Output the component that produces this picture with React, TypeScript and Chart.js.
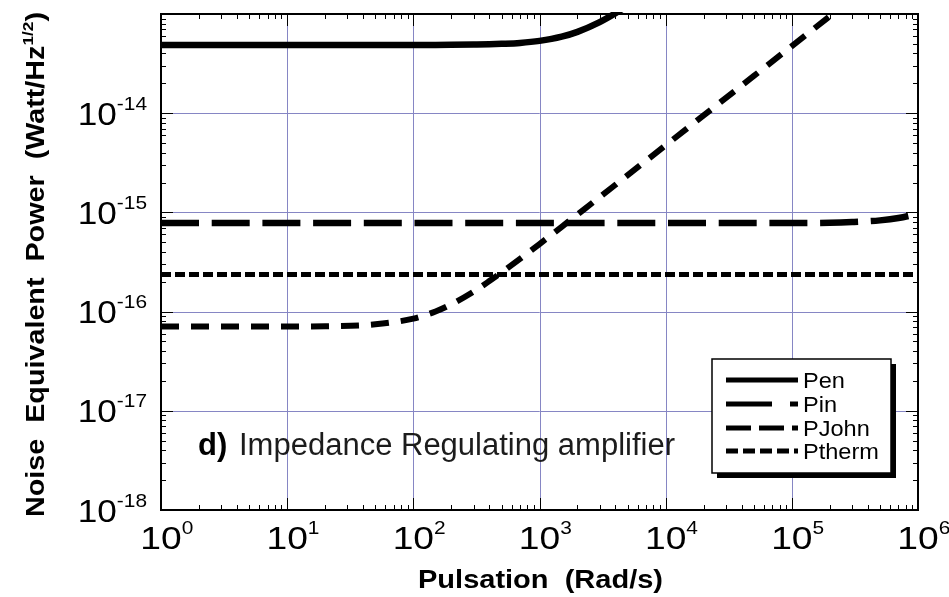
import React, { useEffect, useRef } from "react";
import { Chart, registerables } from "chart.js";

Chart.register(...registerables);

// Pulsation (rad/s)
const omega = [
  1, 2, 5, 10, 20, 50,
  100, 150, 200, 300, 400, 500, 700,
  1000, 1500, 2000, 3000, 4000, 5000, 7000,
  1e4, 2e4, 5e4,
  1e5, 2e5, 3e5, 5e5, 7e5,
  1e6,
];

const pen = [
  4.87e-14, 4.87e-14, 4.87e-14, 4.87e-14, 4.87e-14, 4.87e-14,
  4.875e-14, 4.88e-14, 4.89e-14, 4.92e-14, 4.95e-14, 5.0e-14, 5.11e-14,
  5.36e-14, 5.91e-14, 6.61e-14, 8.29e-14, 1.018e-13, 1.22e-13, null,
  null, null, null,
  null, null, null, null, null,
  null,
];

const pin = [
  7.8e-16, 7.8e-16, 7.8e-16, 7.8e-16, 7.8e-16, 7.8e-16,
  7.8e-16, 7.8e-16, 7.8e-16, 7.8e-16, 7.8e-16, 7.8e-16, 7.8e-16,
  7.8e-16, 7.8e-16, 7.8e-16, 7.8e-16, 7.8e-16, 7.8e-16, 7.8e-16,
  7.8e-16, 7.8e-16, 7.8e-16,
  7.82e-16, 7.86e-16, 7.99e-16, 8.31e-16, 8.77e-16,
  9.68e-16,
];

const pJohn = [
  7.06e-17, 7.06e-17, 7.06e-17, 7.08e-17, 7.12e-17, 7.45e-17,
  8.51e-17, 1.003e-16, 1.184e-16, 1.59e-16, 2.03e-16, 2.48e-16, 3.4e-16,
  4.8e-16, 7.16e-16, 9.53e-16, 1.426e-15, 1.9e-15, 2.375e-15, 3.325e-15,
  4.75e-15, 9.5e-15, 2.375e-14,
  4.75e-14, 9.5e-14, 1.425e-13, null, null,
  null,
];

const pTherm = [
  2.37e-16, 2.37e-16, 2.37e-16, 2.37e-16, 2.37e-16, 2.37e-16,
  2.37e-16, 2.37e-16, 2.37e-16, 2.37e-16, 2.37e-16, 2.37e-16, 2.37e-16,
  2.37e-16, 2.37e-16, 2.37e-16, 2.37e-16, 2.37e-16, 2.37e-16, 2.37e-16,
  2.37e-16, 2.37e-16, 2.37e-16,
  2.37e-16, 2.37e-16, 2.37e-16, 2.37e-16, 2.37e-16,
  2.37e-16,
];

const seriesNames = ["Pen", "Pin", "PJohn", "Ptherm"];
const xDecades = [0, 1, 2, 3, 4, 5, 6];
const yDecades = [-18, -17, -16, -15, -14];
const xTitle = "Pulsation  (Rad/s)";
const yTitleMain = "Noise  Equivalent  Power  (Watt/Hz";
const yTitleSup = "1/2";
const yTitleEnd = ")";
const noteBold = "d)";
const noteText = "Impedance Regulating amplifier";

const FONT = '"Liberation Sans", Arial, Helvetica, sans-serif';
const GRID = "#8686c4";

const styles = [
  { width: 6.5, dash: [] as number[], legendDash: [] as number[] },
  { width: 6.5, dash: [38, 12.7], legendDash: [46, 18] },
  { width: 6, dash: [18, 12], legendDash: [25, 8] },
  { width: 5, dash: [10, 4], legendDash: [12, 5] },
];

function toXY(vals: (number | null)[]) {
  const out: { x: number; y: number }[] = [];
  omega.forEach((w, i) => {
    const v = vals[i];
    if (v !== null && v !== undefined) out.push({ x: w, y: v });
  });
  return out;
}

function measure(ctx: CanvasRenderingContext2D, s: string, font: string) {
  ctx.font = font;
  return ctx.measureText(s).width;
}

function drawS(
  ctx: CanvasRenderingContext2D,
  s: string,
  x: number,
  y: number,
  font: string,
  sx: number
) {
  ctx.save();
  ctx.font = font;
  ctx.textAlign = "left";
  ctx.textBaseline = "alphabetic";
  ctx.translate(x, y);
  ctx.scale(sx, 1);
  ctx.fillText(s, 0, 0);
  ctx.restore();
}

const gridPlugin = {
  id: "decadeGrid",
  beforeDatasetsDraw(chart: any) {
    const { ctx, chartArea: a } = chart;
    const xs = chart.scales.x;
    const ys = chart.scales.y;
    ctx.save();
    ctx.strokeStyle = GRID;
    ctx.lineWidth = 1;
    ctx.beginPath();
    xDecades.forEach((e) => {
      const px = Math.round(xs.getPixelForValue(Math.pow(10, e))) + 0.5;
      ctx.moveTo(px, a.top);
      ctx.lineTo(px, a.bottom);
    });
    yDecades.forEach((e) => {
      const py = Math.round(ys.getPixelForValue(Math.pow(10, e))) + 0.5;
      ctx.moveTo(a.left, py);
      ctx.lineTo(a.right, py);
    });
    ctx.stroke();
    ctx.restore();
  },
};

const decorPlugin = {
  id: "decor",
  afterDraw(chart: any) {
    const { ctx, chartArea: a } = chart;
    const xs = chart.scales.x;
    const ys = chart.scales.y;
    ctx.save();
    ctx.fillStyle = "#000";
    ctx.strokeStyle = "#000";

    // inward tick marks on all four sides
    ctx.lineWidth = 1;
    ctx.beginPath();
    for (let e = 0; e <= 6; e++) {
      for (let m = 1; m <= 9; m++) {
        const v = m * Math.pow(10, e);
        if (v > 1e6 * 1.0001) break;
        const px = Math.round(xs.getPixelForValue(v)) + 0.5;
        const len = m === 1 ? 12 : 5;
        ctx.moveTo(px, a.bottom);
        ctx.lineTo(px, a.bottom - len);
        ctx.moveTo(px, a.top);
        ctx.lineTo(px, a.top + len);
      }
    }
    for (let e = -18; e <= -13; e++) {
      for (let m = 1; m <= 9; m++) {
        const v = m * Math.pow(10, e);
        if (v > 1e-13 * 1.0001) break;
        const py = Math.round(ys.getPixelForValue(v)) + 0.5;
        const len = m === 1 ? 12 : 5;
        ctx.moveTo(a.left, py);
        ctx.lineTo(a.left + len, py);
        ctx.moveTo(a.right, py);
        ctx.lineTo(a.right - len, py);
      }
    }
    ctx.stroke();

    // frame
    ctx.lineWidth = 2;
    ctx.strokeRect(a.left, a.top, a.right - a.left, a.bottom - a.top);

    // x tick labels
    const mainX = `31px ${FONT}`;
    const supX = `19px ${FONT}`;
    xDecades.forEach((e) => {
      const px = xs.getPixelForValue(Math.pow(10, e));
      const wm = measure(ctx, "10", mainX) * 1.2;
      drawS(ctx, "10", px - wm / 2, a.bottom + 39, mainX, 1.2);
      drawS(ctx, String(e), px + wm / 2, a.bottom + 24, supX, 1.1);
    });

    // y tick labels
    const mainY = `32px ${FONT}`;
    const supY = `19px ${FONT}`;
    yDecades.forEach((e) => {
      const py = ys.getPixelForValue(Math.pow(10, e));
      const sup = String(e);
      const ws = measure(ctx, sup, supY) * 1.1;
      const wm = measure(ctx, "10", mainY) * 1.1;
      const sxPos = a.left - 14 - ws;
      drawS(ctx, sup, sxPos, py - 3.5, supY, 1.1);
      drawS(ctx, "10", sxPos - wm, py + 11.5, mainY, 1.1);
    });

    // x title
    const tFont = `bold 25px ${FONT}`;
    const tw = measure(ctx, xTitle, tFont);
    const tsx = 245 / tw;
    const cx = (a.left + a.right) / 2 + 1;
    drawS(ctx, xTitle, cx - (tw * tsx) / 2, a.bottom + 78, tFont, tsx);

    // y title (rotated)
    const yF = `bold 25px ${FONT}`;
    const yFs = `bold 15px ${FONT}`;
    const w1 = measure(ctx, yTitleMain, yF);
    const w2 = measure(ctx, yTitleSup, yFs);
    const w3 = measure(ctx, yTitleEnd, yF);
    const total = w1 + w2 + w3;
    const ysx = 505 / total;
    ctx.save();
    ctx.translate(44, (a.top + a.bottom) / 2 + 2.5);
    ctx.rotate(-Math.PI / 2);
    let start = -(total * ysx) / 2;
    drawS(ctx, yTitleMain, start, 0, yF, ysx);
    start += w1 * ysx;
    drawS(ctx, yTitleSup, start, -11, yFs, ysx);
    start += w2 * ysx;
    drawS(ctx, yTitleEnd, start, 0, yF, ysx);
    ctx.restore();

    // annotation
    const nb = `bold 31px ${FONT}`;
    const nr = `31px ${FONT}`;
    ctx.fillStyle = "#000";
    drawS(ctx, noteBold, a.left + 37, a.bottom - 55, nb, 1);
    ctx.fillStyle = "#1c1c1c";
    drawS(ctx, noteText, a.left + 78, a.bottom - 55, nr, 1);

    // legend
    const bx = a.right - 206;
    const by = a.bottom - 151;
    const bw = 179;
    const bh = 114;
    ctx.fillStyle = "#000";
    ctx.fillRect(bx + 5, by + 5, bw, bh);
    ctx.fillStyle = "#fff";
    ctx.fillRect(bx, by, bw, bh);
    ctx.lineWidth = 1.5;
    ctx.strokeStyle = "#000";
    ctx.strokeRect(bx, by, bw, bh);
    const rows = [21, 45, 69, 92];
    const lf = `22px ${FONT}`;
    seriesNames.forEach((name, i) => {
      const ry = by + rows[i];
      ctx.save();
      ctx.strokeStyle = "#000";
      ctx.lineWidth = 5;
      ctx.lineCap = "butt";
      ctx.setLineDash(styles[i].legendDash);
      ctx.beginPath();
      ctx.moveTo(bx + 14, ry);
      ctx.lineTo(bx + 86, ry);
      ctx.stroke();
      ctx.restore();
      ctx.fillStyle = "#000";
      drawS(ctx, name, bx + 91, ry + 8, lf, 1.07);
    });

    ctx.restore();
  },
};

export default function App() {
  const ref = useRef<HTMLCanvasElement>(null);
  useEffect(() => {
    document.body.style.margin = "0";
    const seriesVals = [pen, pin, pJohn, pTherm];
    const chart = new Chart(ref.current as HTMLCanvasElement, {
      type: "line",
      data: {
        datasets: seriesVals.map((vals, i) => ({
          label: seriesNames[i],
          data: toXY(vals),
          borderColor: "#000",
          backgroundColor: "#000",
          borderWidth: styles[i].width,
          borderDash: styles[i].dash,
          borderCapStyle: "butt",
          borderJoinStyle: "round",
          pointRadius: 0,
          fill: false,
          cubicInterpolationMode: "monotone",
          clip: 2,
        })) as any,
      },
      options: {
        responsive: false,
        animation: false,
        devicePixelRatio: 1,
        events: [],
        layout: { padding: { left: 161, top: 14, right: 31, bottom: 87 } },
        plugins: {
          legend: { display: false },
          tooltip: { enabled: false },
        },
        scales: {
          x: {
            type: "logarithmic",
            min: 1,
            max: 1e6,
            afterFit: (s: any) => {
              s.height = 0;
            },
            ticks: { display: false, autoSkip: false },
            grid: { display: false, drawTicks: false },
            border: { display: false },
          },
          y: {
            type: "logarithmic",
            min: 1e-18,
            max: 1e-13,
            afterFit: (s: any) => {
              s.width = 0;
            },
            ticks: { display: false, autoSkip: false },
            grid: { display: false, drawTicks: false },
            border: { display: false },
          },
        },
      } as any,
      plugins: [gridPlugin, decorPlugin],
    });
    return () => chart.destroy();
  }, []);
  return (
    <div style={{ width: 949, height: 597, overflow: "hidden", background: "#fff" }}>
      <canvas ref={ref} width={949} height={597} style={{ display: "block" }} />
    </div>
  );
}
